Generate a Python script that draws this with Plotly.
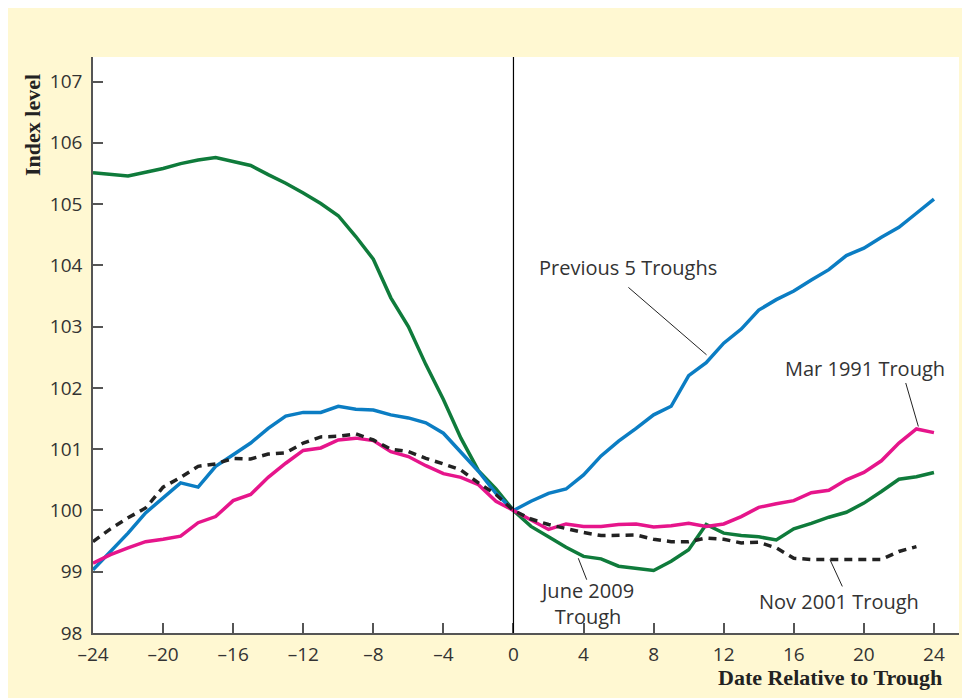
import plotly.graph_objects as go

months = list(range(-24, 25))
months_nov = list(range(-24, 24))

previous5 = [99.03, 99.33, 99.63, 99.96, 100.20, 100.45, 100.38, 100.72, 100.91, 101.10,
             101.34, 101.54, 101.60, 101.60, 101.70, 101.65, 101.64, 101.56, 101.51, 101.43,
             101.26, 100.94, 100.64, 100.28, 100.00, 100.15, 100.28, 100.35, 100.58, 100.89,
             101.13, 101.34, 101.56, 101.70, 102.20, 102.41, 102.73, 102.96, 103.27, 103.44,
             103.58, 103.76, 103.93, 104.16, 104.28, 104.46, 104.62, 104.85, 105.08]

june2009 = [105.51, 105.48, 105.46, 105.52, 105.58, 105.66, 105.72, 105.76, 105.69, 105.63,
            105.48, 105.34, 105.18, 105.01, 104.81, 104.47, 104.10, 103.47, 103.00, 102.38,
            101.81, 101.18, 100.65, 100.35, 100.00, 99.74, 99.57, 99.40, 99.25, 99.21,
            99.09, 99.06, 99.02, 99.17, 99.36, 99.77, 99.63, 99.59, 99.57, 99.52,
            99.70, 99.79, 99.89, 99.97, 100.12, 100.31, 100.51, 100.55, 100.62]

mar1991 = [99.14, 99.28, 99.39, 99.49, 99.53, 99.58, 99.80, 99.90, 100.16, 100.26,
           100.54, 100.77, 100.98, 101.02, 101.15, 101.18, 101.14, 100.96, 100.88, 100.73,
           100.60, 100.54, 100.42, 100.15, 100.00, 99.85, 99.69, 99.78, 99.74, 99.74,
           99.77, 99.78, 99.73, 99.75, 99.79, 99.74, 99.78, 99.90, 100.05, 100.11,
           100.16, 100.29, 100.33, 100.50, 100.62, 100.81, 101.10, 101.33, 101.27]

nov2001 = [99.49, 99.70, 99.88, 100.04, 100.38, 100.54, 100.72, 100.76, 100.85, 100.84,
           100.92, 100.94, 101.10, 101.20, 101.21, 101.25, 101.15, 101.00, 100.96, 100.85,
           100.76, 100.66, 100.45, 100.26, 100.00, 99.86, 99.77, 99.70, 99.64, 99.59,
           99.59, 99.60, 99.53, 99.49, 99.49, 99.55, 99.53, 99.47, 99.48, 99.39,
           99.22, 99.20, 99.20, 99.20, 99.20, 99.20, 99.33, 99.41]

x_ticks = list(range(-24, 25, 4))
x_tick_text = [("\u2013" + str(abs(v))) if v < 0 else str(v) for v in x_ticks]
y_ticks = list(range(98, 108))

BLUE = "#0B7DC3"
GREEN = "#0F7B3B"
MAGENTA = "#E6158B"
BLACK = "#222222"
YELLOW = "#FFF8D2"
TXT = "#333333"

fig = go.Figure()
fig.add_trace(go.Scatter(x=months, y=june2009, mode="lines",
                         line=dict(color=GREEN, width=3.5), name="June 2009 Trough"))
fig.add_trace(go.Scatter(x=months, y=previous5, mode="lines",
                         line=dict(color=BLUE, width=3.5), name="Previous 5 Troughs"))
fig.add_trace(go.Scatter(x=months, y=mar1991, mode="lines",
                         line=dict(color=MAGENTA, width=3.5), name="Mar 1991 Trough"))
fig.add_trace(go.Scatter(x=months_nov, y=nov2001, mode="lines",
                         line=dict(color=BLACK, width=3.5, dash="8px,6px"), name="Nov 2001 Trough"))

# figure is placed at an 8px page offset
OFF = 8
W, H = 962, 690
L, R, T, B = 85, 11, 49, 65
PW, PH = W - L - R, H - T - B


def px(xp):
    return (xp - OFF - L) / PW


def py(yp):
    return (H - B - (yp - OFF)) / PH


shapes = [
    dict(type="line", xref="x", yref="paper", x0=0, x1=0, y0=0, y1=1,
         line=dict(color="black", width=1.2), layer="above"),
]

leaders = [
    ((6.56, 103.64), (11.02, 102.54)),
    ((22.39, 102.08), (23.11, 101.37)),
    ((3.70, 99.22), (4.18, 98.87)),
    ((18.06, 99.20), (18.77, 98.76)),
]
for (a, b) in leaders:
    shapes.append(dict(type="line", xref="x", yref="y", x0=a[0], y0=a[1], x1=b[0], y1=b[1],
                       line=dict(color="#222222", width=1), layer="above"))

lbl_font = dict(family="Open Sans", size=20, color=TXT)
annotations = [
    dict(x=6.54, y=103.96, xref="x", yref="y", text="Previous 5 Troughs",
         showarrow=False, font=lbl_font, xanchor="center", yanchor="middle"),
    dict(x=20.06, y=102.32, xref="x", yref="y", text="Mar 1991 Trough",
         showarrow=False, font=lbl_font, xanchor="center", yanchor="middle"),
    dict(x=4.18, y=98.48, xref="x", yref="y", text="June 2009<br>Trough",
         showarrow=False, font=lbl_font, xanchor="center", yanchor="middle", align="center"),
    dict(x=18.57, y=98.52, xref="x", yref="y", text="Nov 2001 Trough",
         showarrow=False, font=lbl_font, xanchor="center", yanchor="middle"),
    dict(x=px(32), y=py(125), xref="paper", yref="paper", text="<b>Index level</b>",
         textangle=-90, showarrow=False, xanchor="center", yanchor="middle",
         font=dict(family="Liberation Serif", size=22, color="#222222")),
    dict(x=px(944), y=py(677), xref="paper", yref="paper", text="<b>Date Relative to Trough</b>",
         showarrow=False, xanchor="right", yanchor="middle",
         font=dict(family="Liberation Serif", size=22, color="#222222")),
]

fig.update_layout(
    width=W, height=H,
    margin=dict(l=L, r=R, t=T, b=B, pad=0),
    paper_bgcolor=YELLOW,
    plot_bgcolor="white",
    showlegend=False,
    shapes=shapes,
    annotations=annotations,
    font=dict(family="Open Sans", size=19, color=TXT),
)

fig.update_xaxes(
    range=[-24, 25.43], tickmode="array", tickvals=x_ticks, ticktext=x_tick_text,
    ticks="inside", ticklen=10, tickwidth=1.5, tickcolor="#555555",
    showline=True, linecolor="#555555", linewidth=1.5, showgrid=False, zeroline=False,
    tickfont=dict(family="Open Sans", size=19, color=TXT), ticklabelstandoff=3,
)
fig.update_yaxes(
    range=[98, 107.4], tickmode="array", tickvals=y_ticks,
    ticks="inside", ticklen=10, tickwidth=1.5, tickcolor="#555555",
    showline=True, linecolor="#555555", linewidth=1.5, showgrid=False, zeroline=False,
    tickfont=dict(family="Open Sans", size=19, color=TXT), ticklabelstandoff=5,
)

fig.write_html("out.html")
